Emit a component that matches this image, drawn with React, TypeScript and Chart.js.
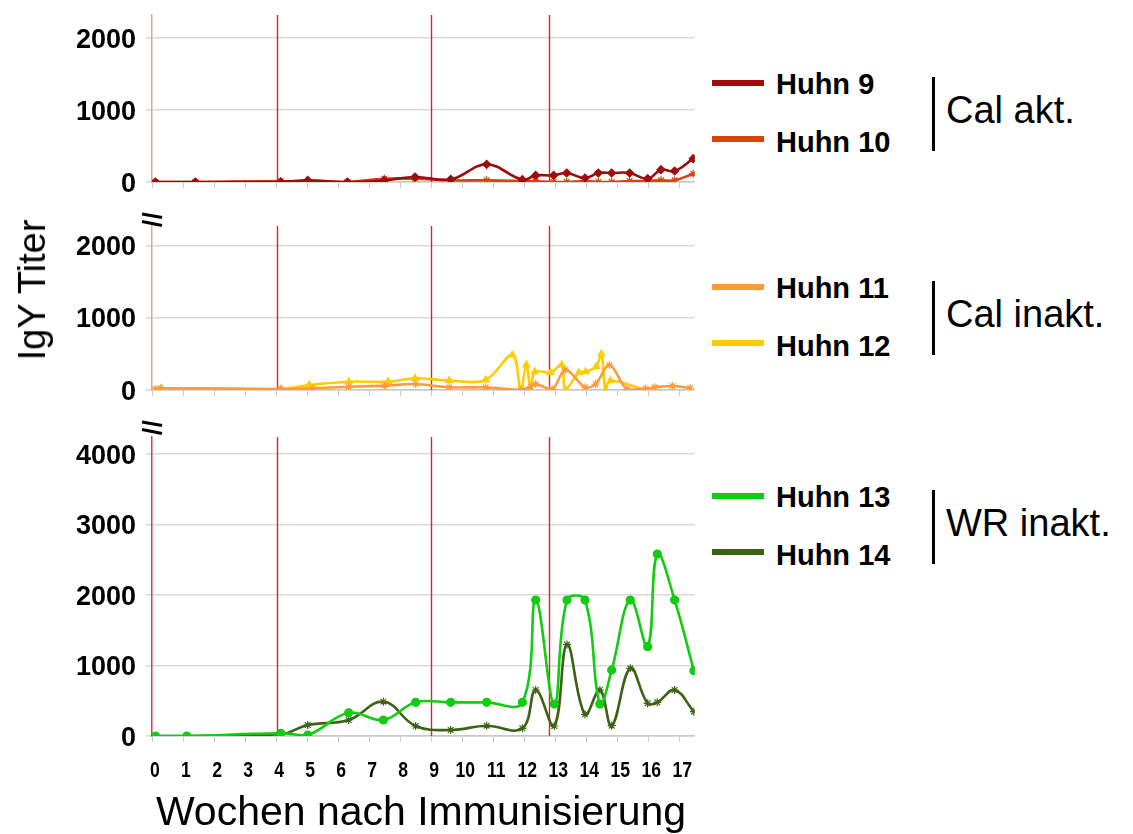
import React, { useEffect, useRef } from "react";
import { Chart, registerables } from "chart.js";

Chart.register(...registerables);

// ---------- data ----------
const xTickLabels = [0, 1, 2, 3, 4, 5, 6, 7, 8, 9, 10, 11, 12, 13, 14, 15, 16, 17];
const immunizationWeeks = [4.02, 9.0, 12.8];

const yTicksTop = [0, 1000, 2000];
const yTicksMid = [0, 1000, 2000];
const yTicksBottom = [0, 1000, 2000, 3000, 4000];

// Panel 1: Cal akt.
const weeksTop = [0.11, 1.4, 4.15, 5.02, 6.3, 7.49, 8.48, 9.63, 10.79, 11.94, 12.37, 12.95, 13.37, 13.96, 14.39, 14.82, 15.4, 15.98, 16.41, 16.85, 17.45];
const huhn9 = [0, 0, 0, 23, 0, 23, 69, 37, 245, 32, 92, 92, 125, 55, 125, 125, 125, 46, 171, 153, 324];
const huhn10 = [0, 0, 14, 0, 0, 46, 46, 23, 23, 14, 9, 0, 0, 14, 0, 0, 14, 14, 23, 23, 116];

// Panel 2: Cal inakt.
const weeksH11 = [0.11, 0.28, 4.15, 5.19, 6.34, 7.5, 8.5, 9.58, 10.76, 11.89, 12.21, 12.37, 12.9, 13.33, 13.96, 14.3, 14.75, 15.32, 15.91, 16.21, 16.78, 17.35];
const huhn11 = [9, 23, 14, 23, 46, 60, 83, 37, 37, 0, 46, 83, 9, 280, 37, 83, 346, 9, 18, 37, 55, 28];
const weeksH12 = [0.11, 0.28, 4.15, 5.07, 6.34, 7.61, 8.48, 9.58, 10.76, 11.62, 11.89, 12.07, 12.21, 12.34, 12.85, 13.21, 13.33, 13.76, 13.98, 14.32, 14.49, 14.62, 14.78, 15.91];
const huhn12 = [0, 23, 14, 69, 115, 115, 162, 131, 139, 485, 0, 346, 0, 253, 240, 346, 0, 240, 253, 323, 499, 0, 129, 0];

// Panel 3: WR inakt.
const weeksBottom = [0.11, 1.12, 4.15, 5.02, 6.34, 7.46, 8.5, 9.63, 10.79, 11.94, 12.37, 12.97, 13.38, 13.96, 14.44, 14.82, 15.42, 15.98, 16.29, 16.85, 17.47];
const huhn13 = [0, 0, 38, 14, 330, 227, 477, 477, 477, 477, 1927, 453, 1927, 1927, 453, 935, 1927, 1266, 2580, 1927, 926];
const huhn14 = [0, 0, 24, 156, 227, 487, 142, 85, 146, 109, 652, 142, 1299, 307, 652, 146, 959, 463, 477, 652, 345];

const COLORS = {
  h9: "#9E0B0B",
  h10: "#D9420F",
  h11: "#FF9A3C",
  h12: "#FFCC00",
  h13: "#12CC12",
  h14: "#3B6313",
};

const FONT = '"Liberation Sans", Arial, sans-serif';

// ---------- plugin ----------
const decorPlugin = {
  id: "decor",
  beforeDatasetsDraw(chart: any) {
    const { ctx, chartArea, scales } = chart;
    ctx.save();
    ctx.strokeStyle = "#DA2626";
    ctx.lineWidth = 1.4;
    for (const w of immunizationWeeks) {
      const x = Math.round(scales.x.getPixelForValue(w)) + 0.5;
      ctx.beginPath();
      ctx.moveTo(x, chartArea.top);
      ctx.lineTo(x, chartArea.bottom);
      ctx.stroke();
    }
    ctx.restore();
  },
  afterDraw(chart: any, _args: any, opts: any) {
    const { ctx, scales, chartArea } = chart;
    ctx.save();
    ctx.fillStyle = "#000";
    ctx.font = 'bold 27px "Liberation Sans", Arial, sans-serif';
    ctx.textAlign = "right";
    ctx.textBaseline = "alphabetic";
    for (const v of opts.yTicks || []) {
      const y = scales.y.getPixelForValue(v);
      ctx.fillText(String(v), chartArea.left - 16, y + 9.7);
    }
    if (opts.showX) {
      ctx.font = 'bold 22px "Liberation Sans", Arial, sans-serif';
      ctx.textAlign = "center";
      for (const v of xTickLabels) {
        const x = scales.x.getPixelForValue(v) + 3;
        ctx.save();
        ctx.translate(x, chartArea.bottom + 41);
        ctx.scale(0.8, 1);
        ctx.fillText(String(v), 0, 0);
        ctx.restore();
      }
    }
    ctx.restore();
  },
};

type DS = { label: string; xs: number[]; ys: number[]; color: string; style: string; radius: number };

type PanelProps = {
  top: number;
  height: number;
  padTop: number;
  xAxisHeight: number;
  yMax: number;
  yTicks: number[];
  showX: boolean;
  leftBorder: string;
  series: DS[];
  tension: number;
};

function Panel(p: PanelProps) {
  const ref = useRef<HTMLCanvasElement>(null);
  useEffect(() => {
    if (!ref.current) return;
    const chart = new Chart(ref.current, {
      type: "line",
      data: {
        datasets: p.series.map((s) => ({
          label: s.label,
          data: s.xs.map((x, i) => ({ x, y: s.ys[i] })),
          borderColor: s.color,
          backgroundColor: s.color,
          pointBackgroundColor: s.color,
          pointBorderColor: s.color,
          borderWidth: 2.6,
          tension: p.tension,
          pointStyle: s.style as any,
          pointRadius: s.radius,
          pointBorderWidth: 1.2,
          fill: false,
        })),
      },
      options: {
        responsive: false,
        animation: false,
        events: [],
        layout: { padding: { top: p.padTop, right: 3, left: 0, bottom: 0 } },
        plugins: {
          legend: { display: false },
          tooltip: { enabled: false },
          decor: { yTicks: p.yTicks, showX: p.showX },
        } as any,
        scales: {
          x: {
            type: "linear",
            min: 0,
            max: 17.5,
            afterBuildTicks: (s: any) => {
              s.ticks = xTickLabels.map((v) => ({ value: v }));
            },
            afterFit: (s: any) => {
              s.height = p.xAxisHeight;
            },
            ticks: { display: false },
            grid: { drawOnChartArea: false, drawTicks: true, tickLength: 6, color: "#C8C8C8", lineWidth: 1 },
            border: { display: true, color: "#C8C8C8", width: 1.5 },
          },
          y: {
            min: 0,
            max: p.yMax,
            afterBuildTicks: (s: any) => {
              s.ticks = p.yTicks.map((v) => ({ value: v }));
            },
            afterFit: (s: any) => {
              s.width = 152;
            },
            ticks: { display: false },
            grid: { color: "#D9D9D9", lineWidth: 1.6, tickLength: 6, drawTicks: true },
            border: { display: true, color: p.leftBorder, width: 1.5 },
          },
        },
      },
      plugins: [decorPlugin],
    });
    return () => chart.destroy();
  }, []);
  return (
    <canvas
      ref={ref}
      width={700}
      height={p.height}
      style={{ position: "absolute", left: 0, top: p.top, width: 700, height: p.height, display: "block" }}
    />
  );
}

function LegendGroup({ offset, items, group }: { offset: number; items: { label: string; color: string }[]; group: string }) {
  const lineCenters = [82.5, 138.5];
  const textCenters = [84, 142];
  return (
    <>
      {items.map((it, i) => (
        <React.Fragment key={it.label}>
          <div
            style={{
              position: "absolute",
              left: 712,
              top: offset + lineCenters[i] - 3,
              width: 52,
              height: 6,
              background: it.color,
            }}
          />
          <div
            style={{
              position: "absolute",
              left: 776,
              top: offset + textCenters[i] - 17,
              height: 34,
              lineHeight: "34px",
              fontFamily: FONT,
              fontWeight: "bold",
              fontSize: 29,
              whiteSpace: "nowrap",
              color: "#000",
            }}
          >
            {it.label}
          </div>
        </React.Fragment>
      ))}
      <div style={{ position: "absolute", left: 932, top: offset + 77, width: 3, height: 74, background: "#000" }} />
      <div
        style={{
          position: "absolute",
          left: 946,
          top: offset + 110 - 22,
          height: 44,
          lineHeight: "44px",
          fontFamily: FONT,
          fontSize: 38,
          whiteSpace: "nowrap",
          color: "#000",
        }}
      >
        {group}
      </div>
    </>
  );
}

function BreakMark({ top }: { top: number }) {
  return (
    <svg style={{ position: "absolute", left: 138, top, width: 28, height: 20 }} width={28} height={20}>
      <line x1={4} y1={2} x2={24} y2={5.5} stroke="#000" strokeWidth={3} />
      <line x1={4} y1={9.5} x2={24} y2={13.5} stroke="#000" strokeWidth={3} />
    </svg>
  );
}

export default function App() {
  return (
    <div style={{ position: "absolute", left: 0, top: 0, width: 1133, height: 834, background: "#fff", overflow: "hidden" }}>
      <Panel
        top={0}
        height={200}
        padTop={15}
        xAxisHeight={18}
        yMax={2320}
        yTicks={yTicksTop}
        showX={false}
        leftBorder="#EE9A9A"
        tension={0.4}
        series={[
          { label: "Huhn 9", xs: weeksTop, ys: huhn9, color: COLORS.h9, style: "rectRot", radius: 4 },
          { label: "Huhn 10", xs: weeksTop, ys: huhn10, color: COLORS.h10, style: "star", radius: 4 },
        ]}
      />
      <Panel
        top={210}
        height={198}
        padTop={16}
        xAxisHeight={18}
        yMax={2270}
        yTicks={yTicksMid}
        showX={false}
        leftBorder="#EE9A9A"
        tension={0.35}
        series={[
          { label: "Huhn 11", xs: weeksH11, ys: huhn11, color: COLORS.h11, style: "star", radius: 4 },
          { label: "Huhn 12", xs: weeksH12, ys: huhn12, color: COLORS.h12, style: "triangle", radius: 4 },
        ]}
      />
      <Panel
        top={420}
        height={376}
        padTop={17}
        xAxisHeight={60}
        yMax={4240}
        yTicks={yTicksBottom}
        showX={true}
        leftBorder="#D94040"
        tension={0.4}
        series={[
          { label: "Huhn 13", xs: weeksBottom, ys: huhn13, color: COLORS.h13, style: "circle", radius: 4 },
          { label: "Huhn 14", xs: weeksBottom, ys: huhn14, color: COLORS.h14, style: "star", radius: 4 },
        ]}
      />

      <BreakMark top={212} />
      <BreakMark top={420} />

      <LegendGroup
        offset={0}
        group="Cal akt."
        items={[
          { label: "Huhn 9", color: COLORS.h9 },
          { label: "Huhn 10", color: COLORS.h10 },
        ]}
      />
      <LegendGroup
        offset={204}
        group="Cal inakt."
        items={[
          { label: "Huhn 11", color: COLORS.h11 },
          { label: "Huhn 12", color: COLORS.h12 },
        ]}
      />
      <LegendGroup
        offset={413}
        group="WR inakt."
        items={[
          { label: "Huhn 13", color: COLORS.h13 },
          { label: "Huhn 14", color: COLORS.h14 },
        ]}
      />

      <div
        style={{
          position: "absolute",
          left: 32,
          top: 290,
          transform: "translate(-50%, -50%) rotate(-90deg)",
          fontFamily: FONT,
          fontSize: 38,
          lineHeight: "44px",
          whiteSpace: "nowrap",
          color: "#000",
        }}
      >
        IgY Titer
      </div>
      <div
        style={{
          position: "absolute",
          left: 421,
          top: 788,
          transform: "translateX(-50%)",
          fontFamily: FONT,
          fontSize: 41,
          lineHeight: "46px",
          whiteSpace: "nowrap",
          color: "#000",
        }}
      >
        Wochen nach Immunisierung
      </div>
    </div>
  );
}
